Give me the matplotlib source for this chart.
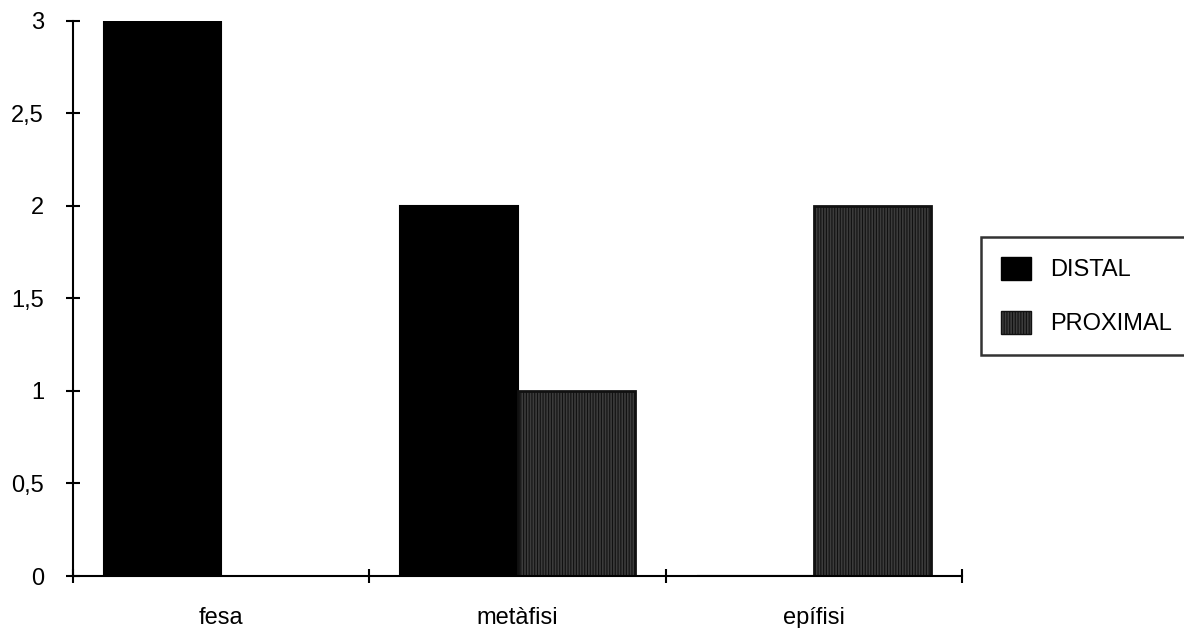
import numpy as np
import matplotlib.pyplot as plt
from matplotlib.patches import Patch

plt.rcParams['font.family'] = ['Liberation Sans', 'DejaVu Sans']
plt.rcParams['hatch.color'] = '#9a9a9a'
plt.rcParams['hatch.linewidth'] = 0.8

categories = ['fesa', 'metàfisi', 'epífisi']
distal = [3, 2, 0]
proximal = [0, 1, 2]
yticks = [0, 0.5, 1, 1.5, 2, 2.5, 3]
ytick_labels = ['0', '0,5', '1', '1,5', '2', '2,5', '3']

fig = plt.figure(figsize=(11.84, 6.28), dpi=100)
ax = fig.add_axes([0.0617, 0.0828, 0.7508, 0.8838])

x = np.arange(len(categories))
w = 0.395
ax.bar(x - w / 2, distal, w, color='black', edgecolor='black', linewidth=1.5, label='DISTAL')
ax.bar(x + w / 2, proximal, w, color='#3c3c3c', edgecolor='#111111', linewidth=2,
       hatch='||||||', label='PROXIMAL')

ax.set_xlim(-0.5, 2.5)
ax.set_ylim(0, 3)
ax.spines['top'].set_visible(False)
ax.spines['right'].set_visible(False)
ax.spines['left'].set_linewidth(1.5)
ax.spines['bottom'].set_linewidth(1.5)

ax.set_yticks(yticks)
ax.set_yticklabels(ytick_labels)
ax.tick_params(axis='y', direction='inout', length=10, width=1.5, pad=16, labelsize=17)

# category boundaries get the tick marks, labels sit between them
ax.set_xticks([-0.5, 0.5, 1.5, 2.5])
ax.set_xticklabels([])
ax.set_xticks(x, minor=True)
ax.set_xticklabels(categories, minor=True)
ax.tick_params(axis='x', which='major', direction='inout', length=10, width=1.5)
ax.tick_params(axis='x', which='minor', length=0, pad=22, labelsize=17)

handles = [Patch(facecolor='black', edgecolor='black', label='DISTAL'),
           Patch(facecolor='#3c3c3c', edgecolor='#111111', hatch='||||||', label='PROXIMAL')]
leg = fig.legend(handles=handles, loc='upper left', bbox_to_anchor=(0.8285, 0.6226),
                 fontsize=17, frameon=True, fancybox=False, edgecolor='black',
                 handlelength=1.28, handleheight=1.1, handletextpad=0.8,
                 labelspacing=1.25, borderpad=0.85, borderaxespad=0)
leg.get_frame().set_linewidth(1.8)

fig.savefig('out.png', dpi=100)
